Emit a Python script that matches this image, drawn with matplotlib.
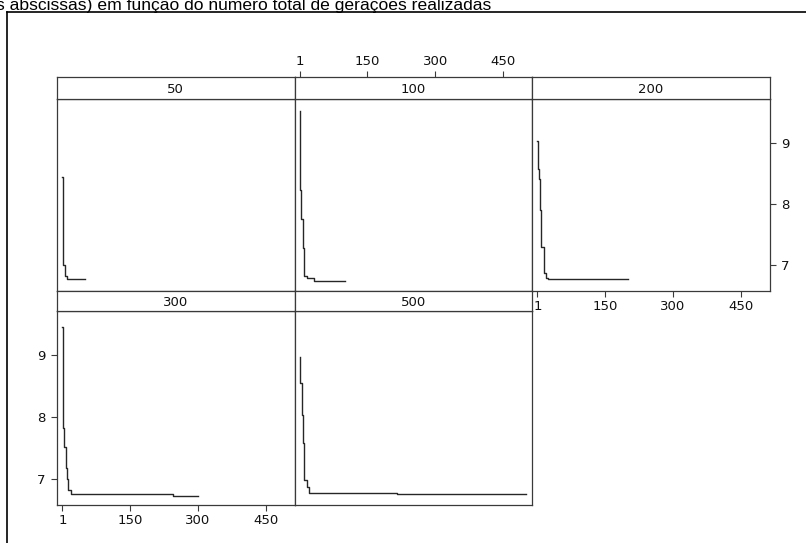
import matplotlib
matplotlib.use("Agg")
import matplotlib.pyplot as plt
from matplotlib.lines import Line2D

# Best fitness per generation for runs of different total generation counts
panel_labels = ["50", "100", "200", "300", "500"]

gens_50 = [1, 2, 3, 7, 11, 50]
best_50 = [8.44, 7.82, 7.00, 6.82, 6.78, 6.78]

gens_100 = [1, 2, 4, 8, 11, 17, 31, 100]
best_100 = [9.51, 8.23, 7.76, 7.28, 6.82, 6.80, 6.74, 6.74]

gens_200 = [1, 2, 3, 5, 7, 9, 16, 20, 24, 200]
best_200 = [9.03, 8.73, 8.57, 8.41, 7.90, 7.30, 6.88, 6.80, 6.78, 6.78]

gens_300 = [1, 2, 3, 5, 8, 11, 13, 20, 246, 300]
best_300 = [9.45, 9.02, 7.82, 7.52, 7.17, 7.00, 6.82, 6.76, 6.73, 6.73]

gens_500 = [1, 2, 5, 8, 10, 16, 21, 216, 500]
best_500 = [8.96, 8.55, 8.04, 7.58, 6.98, 6.87, 6.78, 6.75, 6.75]

x_ticks = [1, 150, 300, 450]
y_ticks = [7, 8, 9]
x_range = (-11, 513)
y_range = (6.58, 9.71)

title_text = "s abscissas) em função do número total de gerações realizadas"

W, H = 806, 543
fig = plt.figure(figsize=(W / 100, H / 100), dpi=100)
fig.patch.set_facecolor("white")

plt.rcParams["font.family"] = ["DejaVu Sans"]

EDGE = "#3a3a3a"
LINE = "#262626"
TICK_FS = 9.5


def rect(x0, y0, x1, y1):
    """Pixel box (origin top-left) -> figure fraction rect."""
    return [x0 / W, 1 - y1 / H, (x1 - x0) / W, (y1 - y0) / H]


col_edges = [57, 294.5, 532, 769.5]
rows = [(77, 99, 291), (291, 311, 505)]

series = {
    "50": (gens_50, best_50),
    "100": (gens_100, best_100),
    "200": (gens_200, best_200),
    "300": (gens_300, best_300),
    "500": (gens_500, best_500),
}
positions = {"50": (0, 0), "100": (0, 1), "200": (0, 2), "300": (1, 0), "500": (1, 1)}


def style_box(ax):
    for s in ax.spines.values():
        s.set_color(EDGE)
        s.set_linewidth(0.9)
    ax.set_facecolor("white")
    ax.tick_params(which="both", length=0, labelbottom=False, labelleft=False,
                   labeltop=False, labelright=False, bottom=False, left=False,
                   top=False, right=False)


for lab in panel_labels:
    r, c = positions[lab]
    x0, x1 = col_edges[c], col_edges[c + 1]
    s_top, s_bot, p_bot = rows[r]

    ax = fig.add_axes(rect(x0, s_bot, x1, p_bot))
    style_box(ax)
    g, v = series[lab]
    ax.plot(g, v, drawstyle="steps-post", color=LINE, lw=1.0)
    ax.set_xlim(*x_range)
    ax.set_ylim(*y_range)
    ax.set_xticks(x_ticks)
    ax.set_yticks(y_ticks)

    st = fig.add_axes(rect(x0, s_top, x1, s_bot))
    style_box(st)
    st.set_xlim(*x_range)
    st.set_ylim(0, 1)
    st.set_yticks([])
    st.text(0.5, 0.45, lab, transform=st.transAxes, ha="center", va="center",
            fontsize=TICK_FS, color="#111111")

    tick_kw = dict(length=4.5, width=0.8, color=EDGE, labelsize=TICK_FS,
                   labelcolor="#111111")
    if lab == "100":
        st.set_xticks(x_ticks)
        st.tick_params(axis="x", top=True, labeltop=True, pad=2, **tick_kw)
    if lab in ("200", "300"):
        ax.tick_params(axis="x", bottom=True, labelbottom=True, pad=2, **tick_kw)
    if lab == "200":
        ax.tick_params(axis="y", right=True, labelright=True, pad=4, **tick_kw)
    if lab == "300":
        ax.tick_params(axis="y", left=True, labelleft=True, pad=4, **tick_kw)

# outer frame of the figure region
fig.add_artist(Line2D([7 / W, 1.0], [1 - 12 / H, 1 - 12 / H], color="black", lw=1.2))
fig.add_artist(Line2D([7 / W, 7 / W], [0.0, 1 - 12 / H], color="black", lw=1.2))

fig.text(-4 / W, 1 - 10 / H, title_text, ha="left", va="baseline",
         fontsize=12.6, family=["Liberation Sans"], color="black")

fig.savefig("out.png", dpi=100)
